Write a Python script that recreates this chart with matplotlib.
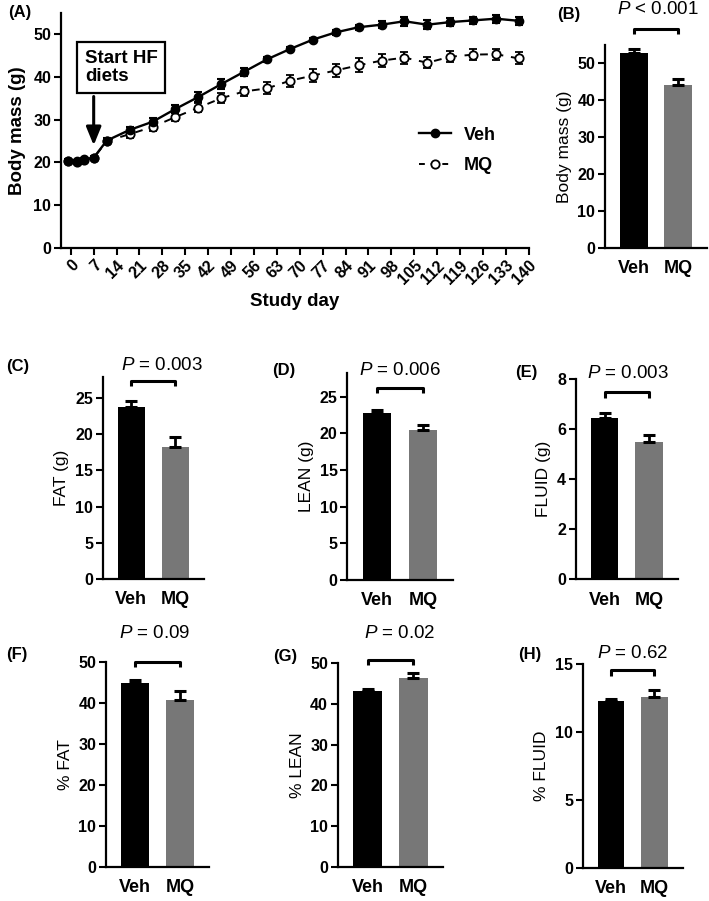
"""
Body mass and body composition, Veh vs MQ
"""

import matplotlib
matplotlib.use('Agg')
import matplotlib.pyplot as plt
from matplotlib.lines import Line2D
import numpy as np

plt.rcParams['font.family'] = ['Liberation Sans', 'DejaVu Sans']
plt.rcParams['mathtext.fontset'] = 'custom'
plt.rcParams['mathtext.it'] = 'Liberation Sans:italic'
plt.rcParams['mathtext.rm'] = 'Liberation Sans'

# Panel A: body mass over time
days = [-1, 2, 4, 7, 11, 18, 25, 32, 39, 46, 53, 60, 67, 74, 81, 88, 95, 102,
        109, 116, 123, 130, 137]
veh_mass = [20.4, 20.3, 20.7, 21.1, 25.1, 27.6, 29.5, 32.5, 35.3, 38.3, 41.2,
            44.1, 46.5, 48.7, 50.4, 51.6, 52.2, 53.0, 52.2, 52.8, 53.2, 53.6, 53.1]
veh_err = [0.3, 0.3, 0.3, 0.4, 0.5, 0.7, 0.8, 1.0, 1.1, 1.1, 0.9, 0.6, 0.5, 0.5,
           0.5, 0.6, 0.8, 1.0, 1.1, 0.9, 0.9, 0.9, 1.0]
mq_mass = [20.4, 20.2, 20.6, 21.0, 25.0, 26.6, 28.3, 30.6, 32.8, 35.0, 36.6,
           37.3, 39.1, 40.3, 41.5, 42.7, 43.8, 44.5, 43.3, 44.7, 45.2, 45.3, 44.3]
mq_err = [0.3, 0.3, 0.3, 0.4, 0.5, 0.8, 0.9, 1.0, 1.1, 1.2, 1.1, 1.4, 1.4, 1.5,
          1.6, 1.6, 1.5, 1.4, 1.3, 1.3, 1.3, 1.3, 1.4]
day_ticks = list(range(0, 141, 7))

groups = ['Veh', 'MQ']
bar_colors = ['black', '#777777']

# Panels B-H: means and SEM
bm_mean, bm_err = [52.8, 44.2], [1.2, 1.5]
fat_mean, fat_err = [23.8, 18.3], [0.9, 1.4]
lean_mean, lean_err = [22.8, 20.5], [0.4, 0.7]
fluid_mean, fluid_err = [6.45, 5.5], [0.2, 0.25]
pfat_mean, pfat_err = [44.8, 40.7], [0.7, 2.2]
plean_mean, plean_err = [43.2, 46.5], [0.6, 1.0]
pfluid_mean, pfluid_err = [12.3, 12.6], [0.15, 0.5]


def style_axes(ax):
    for s in ['top', 'right']:
        ax.spines[s].set_visible(False)
    for s in ['left', 'bottom']:
        ax.spines[s].set_linewidth(1.6)
    ax.tick_params(axis='y', direction='out', length=5, width=1.5,
                   labelsize=11.5, pad=2)
    for lab in ax.get_yticklabels():
        lab.set_fontweight('bold')


def bar_panel(fig, rect, means, errs, ylim, yticks, ylabel, letter, letter_xy,
              ptext, p_xy, bracket_y, leg_y):
    ax = fig.add_axes(rect)
    x = np.arange(2)
    ax.bar(x, means, width=0.62, color=bar_colors, edgecolor='none')
    ax.errorbar(x, means, yerr=[[0, 0], errs], fmt='none', ecolor='black',
                elinewidth=2, capsize=4.5, capthick=2.2)
    ax.set_xlim(-0.65, 1.65)
    ax.set_ylim(*ylim)
    ax.set_yticks(yticks)
    ax.set_xticks(x)
    ax.set_xticklabels(groups, fontsize=13, fontweight='bold')
    ax.tick_params(axis='x', length=0, pad=9)
    style_axes(ax)
    ax.set_ylabel(ylabel, fontsize=12.5, labelpad=4)
    # significance bracket
    ax.plot([0, 0, 1, 1], [leg_y, bracket_y, bracket_y, leg_y], color='black',
            lw=2.2, clip_on=False, solid_capstyle='butt')
    fig.text(p_xy[0] / 709, 1 - p_xy[1] / 901, ptext, fontsize=13.5,
             ha='center', va='center')
    fig.text(letter_xy[0] / 709, 1 - letter_xy[1] / 901, letter, fontsize=12,
             fontweight='bold', ha='left', va='center')
    return ax


fig = plt.figure(figsize=(7.09, 9.01), dpi=100)

# ---- Panel A ----
axA = fig.add_axes([0.0860, 0.7248, 0.6597, 0.2611])
axA.errorbar(days, mq_mass, yerr=mq_err, color='black', lw=1.4, ls=(0, (4, 4)),
             marker='o', markersize=6, markerfacecolor='white',
             markeredgewidth=1.3, capsize=3, elinewidth=1.5, capthick=1.5,
             zorder=2)
axA.errorbar(days, veh_mass, yerr=veh_err, color='black', lw=1.7, marker='o',
             markersize=6, capsize=3, elinewidth=1.5, capthick=1.5, zorder=3)
axA.set_xlim(-3, 140)
axA.set_ylim(0, 55)
axA.set_yticks(range(0, 51, 10))
axA.set_xticks(day_ticks)
axA.set_xticklabels([str(d) for d in day_ticks], rotation=45, ha='right',
                    rotation_mode='anchor', fontsize=11.5, fontweight='bold')
axA.tick_params(axis='x', direction='out', length=5, width=1.5, pad=2)
style_axes(axA)
axA.set_xlabel('Study day', fontsize=13.5, fontweight='bold', labelpad=4)
axA.set_ylabel('Body mass (g)', fontsize=13.5, fontweight='bold', labelpad=5)

handles = [Line2D([], [], color='black', lw=1.7, marker='o', markersize=6),
           Line2D([], [], color='black', lw=1.4, ls=(0, (3, 3)), marker='o',
                  markersize=6, markerfacecolor='white', markeredgewidth=1.3)]
axA.legend(handles, groups, frameon=False, loc='center left',
           bbox_to_anchor=(0.73, 0.415), prop={'size': 13, 'weight': 'bold'},
           handlelength=1.8, handletextpad=0.7, labelspacing=0.75)

axA.text(4.3, 42.2, 'Start HF\ndiets', fontsize=13.5, fontweight='bold',
         ha='left', va='center', linespacing=1.1,
         bbox=dict(boxstyle='square,pad=0.4', fc='white', ec='black', lw=1.6))
axA.annotate('', xy=(7, 24.0), xytext=(7, 35.4),
             arrowprops=dict(arrowstyle='-|>,head_width=0.45,head_length=1.1',
                             color='black', lw=2.2, shrinkA=0, shrinkB=0))
fig.text(8 / 709, 1 - 13 / 901, '(A)', fontsize=12, fontweight='bold',
         ha='left', va='center')

# ---- Panel B ----
bar_panel(fig, [0.8533, 0.7251, 0.1439, 0.2250], bm_mean, bm_err, (0, 55),
          range(0, 51, 10), 'Body mass (g)', '(B)', (557, 14),
          r'$\it{P}$ < 0.001', (658, 9), 59.4, 58.0)

# ---- Panels C-E ----
bar_panel(fig, [0.1449, 0.3577, 0.1428, 0.2242], fat_mean, fat_err, (0, 28),
          range(0, 26, 5), 'FAT (g)', '(C)', (6, 367),
          r'$\it{P}$ = 0.003', (162, 365), 27.45, 26.7)
bar_panel(fig, [0.4898, 0.3563, 0.1487, 0.2294], lean_mean, lean_err, (0, 28.2),
          range(0, 26, 5), 'LEAN (g)', '(D)', (272, 370),
          r'$\it{P}$ = 0.006', (400, 370), 26.2, 25.5)
bar_panel(fig, [0.8120, 0.3571, 0.1443, 0.2222], fluid_mean, fluid_err, (0, 8),
          range(0, 9, 2), 'FLUID (g)', '(E)', (515, 373),
          r'$\it{P}$ = 0.003', (628, 374), 7.5, 7.26)

# ---- Panels F-H ----
bar_panel(fig, [0.1495, 0.0381, 0.1453, 0.2272], pfat_mean, pfat_err, (0, 50),
          range(0, 51, 10), '% FAT', '(F)', (6, 655),
          r'$\it{P}$ = 0.09', (155, 634), 50.0, 48.7)
bar_panel(fig, [0.4763, 0.0381, 0.1490, 0.2257], plean_mean, plean_err, (0, 50),
          range(0, 51, 10), '% LEAN', '(G)', (273, 657),
          r'$\it{P}$ = 0.02', (400, 634), 50.8, 49.6)
bar_panel(fig, [0.8219, 0.0370, 0.1410, 0.2260], pfluid_mean, pfluid_err,
          (0, 15), range(0, 16, 5), '% FLUID', '(H)', (518, 655),
          r'$\it{P}$ = 0.62', (633, 653), 14.56, 14.1)

fig.savefig('out.png', dpi=100)
